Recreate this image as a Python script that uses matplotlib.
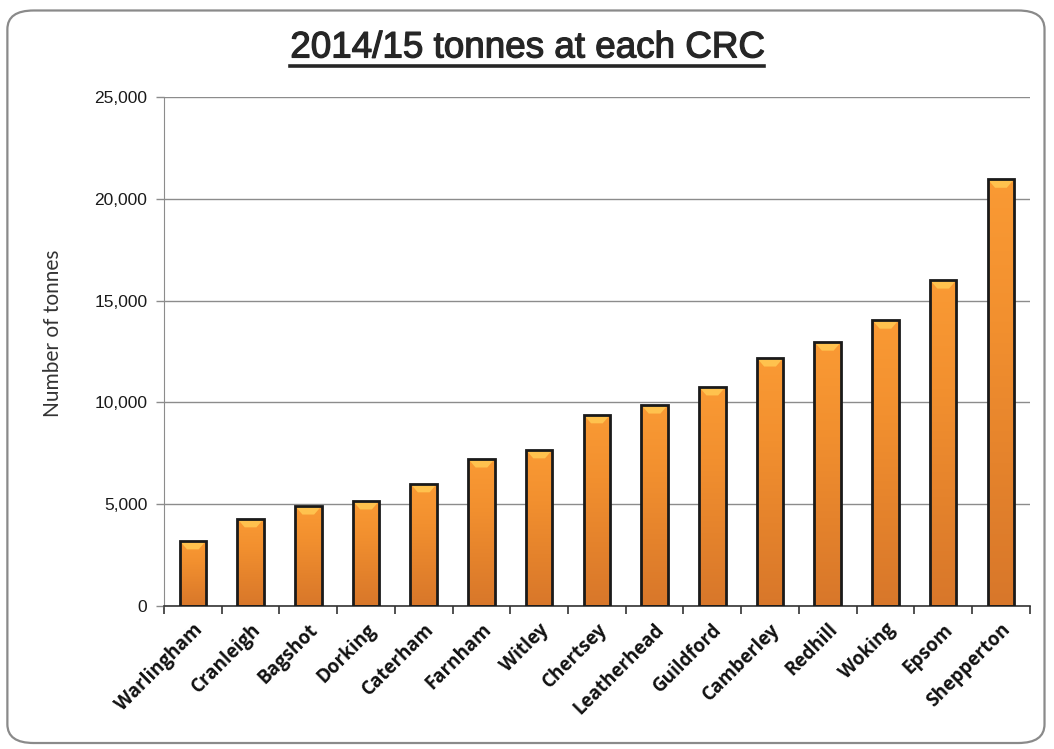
import matplotlib
matplotlib.use("Agg")
import matplotlib.pyplot as plt
import matplotlib.patheffects as pe
from matplotlib.patches import FancyBboxPatch, Polygon
from matplotlib.lines import Line2D
from matplotlib.colors import LinearSegmentedColormap
from matplotlib.ticker import FuncFormatter, FixedLocator
import numpy as np

sites = ["Warlingham", "Cranleigh", "Bagshot", "Dorking", "Caterham", "Farnham",
         "Witley", "Chertsey", "Leatherhead", "Guildford", "Camberley", "Redhill",
         "Woking", "Epsom", "Shepperton"]
tonnes = [3200, 4280, 4910, 5160, 6000, 7220, 7670, 9390, 9870, 10760,
          12180, 12960, 14040, 16010, 20960]
y_ticks = [0, 5000, 10000, 15000, 20000, 25000]

fig = plt.figure(figsize=(10.54, 7.49), dpi=100)
ax = fig.add_axes([0.1556, 0.191, 0.8214, 0.6795])

# rounded frame round the whole chart
frame = FancyBboxPatch((0.007, 0.008), 0.984, 0.978,
                       boxstyle="round,pad=0,rounding_size=0.025",
                       transform=fig.transFigure, facecolor="white",
                       edgecolor="#8a8a8a", linewidth=1.6, zorder=-10)
fig.patches.append(frame)

x = np.arange(len(sites))
bars = ax.bar(x, tonnes, width=0.46, color="none", edgecolor="#1a1a1a",
              linewidth=2.0, zorder=3)

# light at the top, darker toward the base
orange = LinearSegmentedColormap.from_list(
    "orange", ["#fa9a34", "#f2902f", "#e5832c", "#d8772a"])
grad = np.linspace(0, 1, 256).reshape(-1, 1)
bevel = 420  # about 8 px of the y scale
for b in bars:
    x0, w, h = b.get_x(), b.get_width(), b.get_height()
    im = ax.imshow(grad, extent=(x0, x0 + w, 0, h), origin="upper",
                   cmap=orange, aspect="auto", zorder=2,
                   interpolation="bicubic")
    im.set_clip_path(b)
    # small bevel highlight at the top of each bar
    tri = Polygon([(x0, h), (x0 + w, h), (x0 + 0.72 * w, h - bevel),
                   (x0 + 0.28 * w, h - bevel)], closed=True,
                  facecolor="#ffc24e", edgecolor="none", zorder=2.5)
    ax.add_patch(tri)
    tri.set_clip_path(b)

ax.set_xlim(-0.5, len(sites) - 0.5)
ax.set_ylim(0, 25000)

ax.yaxis.set_major_locator(FixedLocator(y_ticks))
ax.yaxis.set_major_formatter(FuncFormatter(lambda v, p: f"{int(v):,}"))
ax.grid(axis="y", color="#8c8c8c", linewidth=1.0, zorder=0)
ax.set_axisbelow(True)

ax.set_xticks(x)
ax.set_xticklabels(sites, rotation=45, ha="right", rotation_mode="anchor",
                   family="Open Sans", fontweight="bold", fontsize=13.5,
                   color="#111111")
ax.set_xticks(np.arange(-0.5, len(sites)), minor=True)
ax.tick_params(axis="x", which="major", length=0, pad=10)
ax.tick_params(axis="x", which="minor", length=6, color="#333333", width=1.2)
ax.tick_params(axis="y", length=6, color="#8c8c8c", width=1.0, pad=6)
for lab in ax.get_yticklabels():
    lab.set_family("Liberation Sans")
    lab.set_fontsize(12.5)
    lab.set_color("#1a1a1a")

for s in ["top", "right"]:
    ax.spines[s].set_visible(False)
ax.spines["left"].set_color("#8c8c8c")
ax.spines["bottom"].set_color("#333333")
ax.spines["bottom"].set_linewidth(1.2)

ax.set_ylabel("Number of tonnes", family="Lato", fontsize=15,
              color="#333333")
ax.yaxis.set_label_coords(-0.117, 0.536)

title = fig.text(0.5, 0.936, "2014/15 tonnes at each CRC", ha="center",
                 va="center", family="Liberation Sans",
                 fontsize=26.5, color="#262626",
                 path_effects=[pe.withStroke(linewidth=0.9,
                                             foreground="#262626")])

# underline the title
fig.canvas.draw()
bb = title.get_window_extent().transformed(fig.transFigure.inverted())
fig.add_artist(Line2D([bb.x0, bb.x1], [bb.y0 - 0.001, bb.y0 - 0.001],
                      color="#262626", linewidth=2.6,
                      transform=fig.transFigure))

fig.savefig("out.png", dpi=100)
